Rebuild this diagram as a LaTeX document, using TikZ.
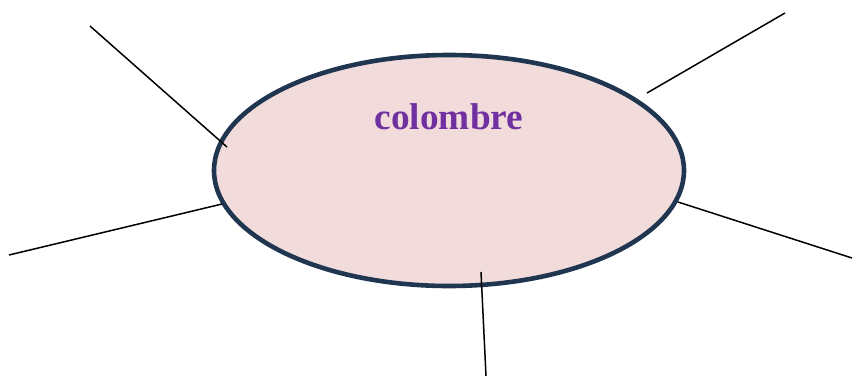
\documentclass[tikz,border=0pt]{standalone}
\usepackage{fontspec}
\setmainfont{Liberation Serif}
\definecolor{ellfill}{HTML}{F2DCDB}
\definecolor{elldraw}{HTML}{1F3550}
\definecolor{titlepurple}{HTML}{7030A0}
\begin{document}
\begin{tikzpicture}[x=1pt,y=-1pt,
  spoke/.style={draw=black,line width=1.5pt},
  bubble/.style={fill=ellfill,draw=elldraw,line width=4.6pt}]
\useasboundingbox (0,0) rectangle (852,376);
\draw[bubble] (449,170.5) ellipse [x radius=235, y radius=115.5];
\node[anchor=base,inner sep=0pt,text=titlepurple,font=\bfseries\fontsize{37.3}{40}\selectfont] (title) at (449,129.5) {colombre};
\coordinate (a1) at (90,26);   \coordinate (a2) at (227,147);
\coordinate (b1) at (785,13);  \coordinate (b2) at (647,93);
\coordinate (c1) at (9,255);   \coordinate (c2) at (222,204);
\coordinate (d1) at (852,258); \coordinate (d2) at (678,202);
\coordinate (e1) at (486,376); \coordinate (e2) at (481,272);
\draw[spoke] (a1) -- (a2);
\draw[spoke] (b1) -- (b2);
\draw[spoke] (c1) -- (c2);
\draw[spoke] (d1) -- (d2);
\draw[spoke] (e1) -- (e2);
\end{tikzpicture}
\end{document}
